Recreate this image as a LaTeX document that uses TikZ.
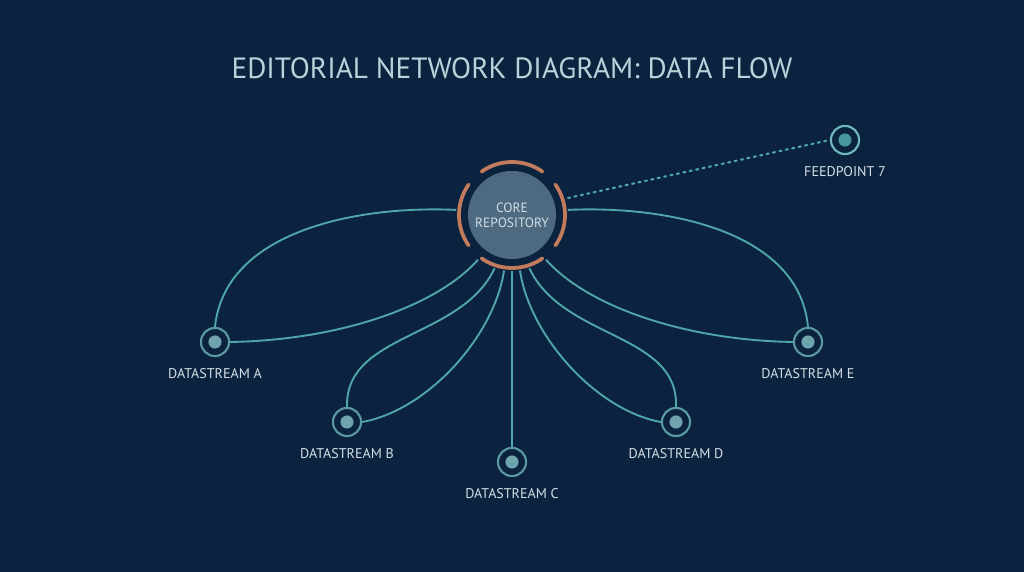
\documentclass[tikz,border=0pt]{standalone}
\usepackage{fontspec}
\setmainfont{PT Sans}
\usetikzlibrary{calc,positioning}
\begin{document}
\begin{tikzpicture}[x=0.03cm,y=-0.03cm,
  line/.style={draw=teal1,line width=1.6pt},
  dsnode/.style={circle,draw=ring1,line width=1.8pt,fill=bg,minimum size=24pt,inner sep=0pt,
     path picture={\fill[dotc] (path picture bounding box.center) circle (5.6pt);}},
  lab/.style={text=labc,font=\fontsize{12}{14}\selectfont},
]
\definecolor{bg}{HTML}{0C2340}
\definecolor{teal1}{HTML}{4FA7AC}
\definecolor{ring1}{HTML}{5A98A4}
\definecolor{dotc}{HTML}{6FA3AE}
\definecolor{labc}{HTML}{D3DEE6}
\definecolor{copper}{HTML}{C27B5C}
\definecolor{corefill}{HTML}{4D6A80}
\fill[bg] (0,0) rectangle (1024,572);
\useasboundingbox (0,0) rectangle (1024,572);
\node[text=labc!80!teal1,font=\fontsize{25}{28}\selectfont] (title) at (512,68) {EDITORIAL NETWORK DIAGRAM: DATA FLOW};
\coordinate (cl) at (458,210);
\coordinate (cr) at (566,210);
\node[dsnode] (A) at (215,342) {};
\node[dsnode] (B) at (347,422) {};
\node[dsnode] (C) at (512,462) {};
\node[dsnode] (D) at (676,422) {};
\node[dsnode] (E) at (808,342) {};
\node[dsnode,draw=teal1!80!white,path picture={\fill[teal1!90!black] (path picture bounding box.center) circle (5.6pt);}] (F) at (845,140) {};
\draw[line] (A.north) .. controls (225,230) and (360,205) .. (cl);
\draw[line] (A.east) .. controls (350,340) and (450,300) .. (484,252);
\draw[line] (B.north) .. controls (345,330) and (470,340) .. (498,260);
\draw[line] (B.east) .. controls (430,410) and (500,330) .. (505,262);
\draw[line] (C.north) -- (512,262);
\draw[line] (D.north) .. controls (679,330) and (554,340) .. (526,260);
\draw[line] (D.west) .. controls (594,410) and (524,330) .. (519,262);
\draw[line] (E.north) .. controls (799,230) and (664,205) .. (cr);
\draw[line] (E.west) .. controls (674,340) and (574,300) .. (540,252);
\draw[teal1,line width=1.8pt,dash pattern=on 1.8pt off 3.8pt,line cap=round] (568,198) -- (F.west);
\fill[bg] (512,215) circle (56*0.03cm);
\node[circle,fill=corefill,minimum size=88*0.03cm,inner sep=0pt,align=center,text=labc,font=\fontsize{11.5}{13}\selectfont] (core) at (512,215) {CORE\\REPOSITORY};
\foreach \a in {55,145,235,325}
  \draw[copper,line width=3.2pt,line cap=round] ($(core.center)+(\a:53*0.03cm)$) arc[start angle=\a,end angle=\a+70,radius=53*0.03cm];
\node[lab,below=6pt of A] {DATASTREAM A};
\node[lab,below=6pt of B] {DATASTREAM B};
\node[lab,below=6pt of C] {DATASTREAM C};
\node[lab,below=6pt of D] {DATASTREAM D};
\node[lab,below=6pt of E] {DATASTREAM E};
\node[lab,below=6pt of F] {FEEDPOINT 7};
\end{tikzpicture}
\end{document}
